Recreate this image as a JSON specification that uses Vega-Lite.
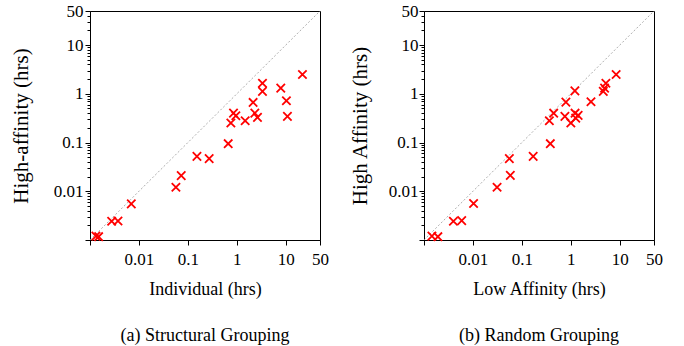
{
  "$schema": "https://vega.github.io/schema/vega-lite/v6.json",
  "padding": {"left": 9, "top": 1, "right": 5, "bottom": 2},
  "spacing": 19,
  "datasets": {
    "structural": [
      {"individual": 0.00132, "high_affinity": 0.0012},
      {"individual": 0.0015, "high_affinity": 0.00117},
      {"individual": 0.00277, "high_affinity": 0.00243},
      {"individual": 0.00373, "high_affinity": 0.00245},
      {"individual": 0.00698, "high_affinity": 0.0055},
      {"individual": 0.0569, "high_affinity": 0.0121},
      {"individual": 0.0731, "high_affinity": 0.0209},
      {"individual": 0.153, "high_affinity": 0.0521},
      {"individual": 0.272, "high_affinity": 0.0467},
      {"individual": 0.666, "high_affinity": 0.0947},
      {"individual": 0.755, "high_affinity": 0.251},
      {"individual": 0.855, "high_affinity": 0.402},
      {"individual": 0.955, "high_affinity": 0.355},
      {"individual": 1.48, "high_affinity": 0.28},
      {"individual": 2.15, "high_affinity": 0.665},
      {"individual": 2.33, "high_affinity": 0.402},
      {"individual": 2.64, "high_affinity": 0.328},
      {"individual": 3.34, "high_affinity": 1.65},
      {"individual": 3.34, "high_affinity": 1.12},
      {"individual": 7.9, "high_affinity": 1.31},
      {"individual": 10.3, "high_affinity": 0.719},
      {"individual": 10.8, "high_affinity": 0.344},
      {"individual": 21.9, "high_affinity": 2.49}
    ],
    "random": [
      {"low_affinity": 0.00145, "high_affinity": 0.0012},
      {"low_affinity": 0.00192, "high_affinity": 0.00117},
      {"low_affinity": 0.00399, "high_affinity": 0.00243},
      {"low_affinity": 0.00589, "high_affinity": 0.0025},
      {"low_affinity": 0.0103, "high_affinity": 0.0056},
      {"low_affinity": 0.0311, "high_affinity": 0.0121},
      {"low_affinity": 0.0554, "high_affinity": 0.0467},
      {"low_affinity": 0.058, "high_affinity": 0.0212},
      {"low_affinity": 0.17, "high_affinity": 0.052},
      {"low_affinity": 0.381, "high_affinity": 0.0947},
      {"low_affinity": 0.364, "high_affinity": 0.28},
      {"low_affinity": 0.446, "high_affinity": 0.4},
      {"low_affinity": 0.756, "high_affinity": 0.344},
      {"low_affinity": 0.792, "high_affinity": 0.675},
      {"low_affinity": 1.0, "high_affinity": 0.251},
      {"low_affinity": 1.21, "high_affinity": 1.15},
      {"low_affinity": 1.22, "high_affinity": 0.4},
      {"low_affinity": 1.26, "high_affinity": 0.317},
      {"low_affinity": 1.41, "high_affinity": 0.36},
      {"low_affinity": 2.58, "high_affinity": 0.686},
      {"low_affinity": 4.6, "high_affinity": 1.12},
      {"low_affinity": 4.89, "high_affinity": 1.31},
      {"low_affinity": 5.2, "high_affinity": 1.65},
      {"low_affinity": 8.43, "high_affinity": 2.49}
    ],
    "diagonal": [
      {"v": 0.001},
      {"v": 50}
    ]
  },
  "config": {
    "font": "Liberation Serif",
    "view": {"stroke": "black", "strokeWidth": 1},
    "axis": {
      "grid": false,
      "domainColor": "black",
      "tickColor": "black",
      "labelColor": "black",
      "titleColor": "black",
      "labelFont": "Liberation Serif",
      "titleFont": "Liberation Serif",
      "titleFontWeight": "normal",
      "labelFontSize": 17,
      "labelFlush": false,
      "labelOverlap": false,
      "tickWidth": 1,
      "domainWidth": 1
    },
    "title": {"font": "Liberation Serif", "fontSize": 18, "fontWeight": "normal", "color": "black"}
  },
  "hconcat": [
    {
      "width": 230,
      "height": 229,
      "title": {"text": "(a) Structural Grouping", "orient": "bottom", "offset": 29},
      "layer": [
        {
          "data": {"name": "diagonal"},
          "mark": {"type": "line", "color": "#999999", "strokeWidth": 0.8, "strokeDash": [2, 2]},
          "encoding": {
            "x": {"field": "v", "type": "quantitative"},
            "y": {"field": "v", "type": "quantitative"}
          }
        },
        {
          "data": {"name": "structural"},
          "mark": {"type": "point", "shape": "M-1,-1L1,1M1,-1L-1,1", "filled": false, "stroke": "red", "strokeWidth": 1.8, "size": 70, "opacity": 1},
          "encoding": {
            "x": {
              "field": "individual", "type": "quantitative",
              "scale": {"type": "log", "domain": [0.001, 50], "nice": false},
              "axis": {
                "title": "Individual (hrs)", "titleFontSize": 18, "titlePadding": 13,
                "values": [0.001, 0.01, 0.1, 1, 10, 50],
                "format": "~g",
                "labelExpr": "datum.value < 0.005 ? '' : datum.label",
                "tickSize": 5, "labelPadding": 6
              }
            },
            "y": {
              "field": "high_affinity", "type": "quantitative",
              "scale": {"type": "log", "domain": [0.001, 50], "nice": false},
              "axis": {
                "title": "High-affinity (hrs)", "titleFontSize": 21, "titlePadding": 22,
                "values": [0.001, 0.002, 0.003, 0.004, 0.005, 0.006, 0.007, 0.008, 0.009, 0.01, 0.02, 0.03, 0.04, 0.05, 0.06, 0.07, 0.08, 0.09, 0.1, 0.2, 0.3, 0.4, 0.5, 0.6, 0.7, 0.8, 0.9, 1, 2, 3, 4, 5, 6, 7, 8, 9, 10, 20, 30, 40, 50],
                "format": "~g",
                "labelExpr": "indexof([0.01, 0.1, 1, 10, 50], datum.value) >= 0 ? datum.label : ''",
                "tickSize": {"condition": {"test": "indexof([0.001, 0.01, 0.1, 1, 10, 50], datum.value) >= 0", "value": 5}, "value": 3},
                "labelPadding": 2
              }
            }
          }
        }
      ]
    },
    {
      "width": 230,
      "height": 229,
      "title": {"text": "(b) Random Grouping", "orient": "bottom", "offset": 29},
      "layer": [
        {
          "data": {"name": "diagonal"},
          "mark": {"type": "line", "color": "#999999", "strokeWidth": 0.8, "strokeDash": [2, 2]},
          "encoding": {
            "x": {"field": "v", "type": "quantitative"},
            "y": {"field": "v", "type": "quantitative"}
          }
        },
        {
          "data": {"name": "random"},
          "mark": {"type": "point", "shape": "M-1,-1L1,1M1,-1L-1,1", "filled": false, "stroke": "red", "strokeWidth": 1.8, "size": 70, "opacity": 1},
          "encoding": {
            "x": {
              "field": "low_affinity", "type": "quantitative",
              "scale": {"type": "log", "domain": [0.001, 50], "nice": false},
              "axis": {
                "title": "Low Affinity (hrs)", "titleFontSize": 18, "titlePadding": 13,
                "values": [0.001, 0.01, 0.1, 1, 10, 50],
                "format": "~g",
                "labelExpr": "datum.value < 0.005 ? '' : datum.label",
                "tickSize": 5, "labelPadding": 6
              }
            },
            "y": {
              "field": "high_affinity", "type": "quantitative",
              "scale": {"type": "log", "domain": [0.001, 50], "nice": false},
              "axis": {
                "title": "High Affinity (hrs)", "titleFontSize": 21, "titlePadding": 18,
                "values": [0.001, 0.002, 0.003, 0.004, 0.005, 0.006, 0.007, 0.008, 0.009, 0.01, 0.02, 0.03, 0.04, 0.05, 0.06, 0.07, 0.08, 0.09, 0.1, 0.2, 0.3, 0.4, 0.5, 0.6, 0.7, 0.8, 0.9, 1, 2, 3, 4, 5, 6, 7, 8, 9, 10, 20, 30, 40, 50],
                "format": "~g",
                "labelExpr": "indexof([0.01, 0.1, 1, 10, 50], datum.value) >= 0 ? datum.label : ''",
                "tickSize": {"condition": {"test": "indexof([0.001, 0.01, 0.1, 1, 10, 50], datum.value) >= 0", "value": 5}, "value": 3},
                "labelPadding": 1
              }
            }
          }
        }
      ]
    }
  ]
}
